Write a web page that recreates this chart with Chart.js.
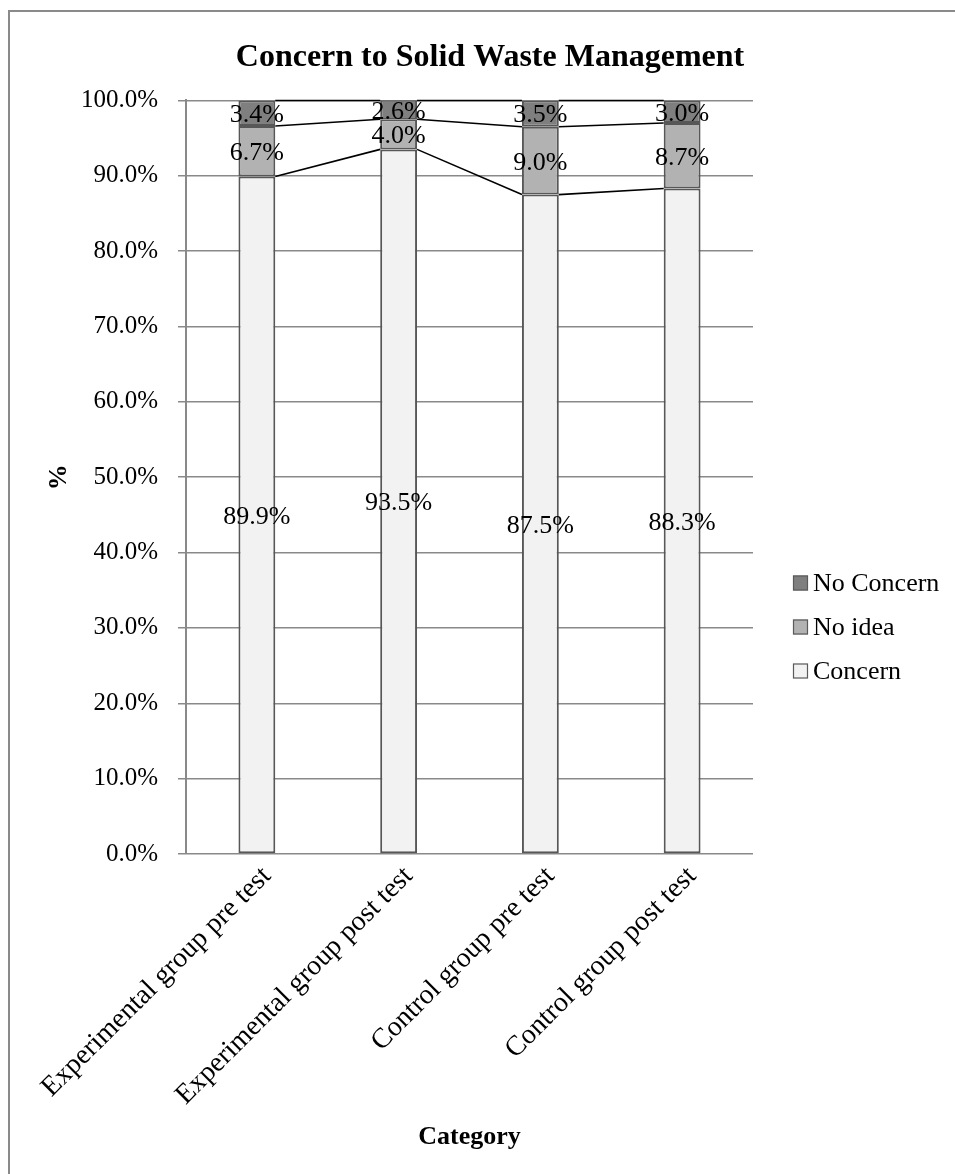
<!DOCTYPE html>
<html>
<head>
<meta charset="utf-8">
<title>Concern to Solid Waste Management</title>
<script src="https://cdn.jsdelivr.net/npm/chart.js@4/dist/chart.umd.min.js"></script>
<style>
  html, body { margin: 0; padding: 0; background: #fff; overflow: hidden; }
  #wrap { position: absolute; left: 0; top: 0; width: 980px; height: 1174px; }
  #frame { position: absolute; left: 8px; top: 10px; width: 1000px; height: 1200px;
           border-left: 2px solid #8a8a8a; border-top: 2px solid #8a8a8a; pointer-events: none; }
</style>
</head>
<body>
<div id="wrap"><canvas id="chart" width="980" height="1174"></canvas></div>
<div id="frame"></div>
<script>
// Survey groups (x categories)
const categories = [
  'Experimental group pre test',
  'Experimental group post test',
  'Control group pre test',
  'Control group post test'
];

// Share of respondents per answer, in percent
const concern    = [89.9, 93.5, 87.5, 88.3];
const noIdea     = [6.7, 4.0, 9.0, 8.7];
const noConcern  = [3.4, 2.6, 3.5, 3.0];

// Value axis ticks
const yTicks = [0, 10, 20, 30, 40, 50, 60, 70, 80, 90, 100];

const SERIF = "'Liberation Serif', 'Times New Roman', Times, serif";
const GRID = '#898989';

// Lines joining the top edge of each stacked segment from one bar to the next
const seriesLines = {
  id: 'seriesLines',
  afterDatasetsDraw(chart) {
    const {ctx, chartArea} = chart;
    ctx.save();
    ctx.beginPath();
    ctx.rect(chartArea.left, chartArea.top - 1, chartArea.right - chartArea.left, chartArea.bottom - chartArea.top + 1);
    ctx.clip();
    ctx.strokeStyle = '#000';
    ctx.lineWidth = 1.6;
    chart.data.datasets.forEach((ds, i) => {
      const bars = chart.getDatasetMeta(i).data;
      for (let j = 0; j < bars.length - 1; j++) {
        const a = bars[j].getProps(['x', 'y', 'width'], true);
        const b = bars[j + 1].getProps(['x', 'y', 'width'], true);
        const ya = Math.max(a.y, chartArea.top), yb = Math.max(b.y, chartArea.top);
        ctx.beginPath();
        ctx.moveTo(a.x + a.width / 2, ya);
        ctx.lineTo(b.x - b.width / 2, yb);
        ctx.stroke();
      }
    });
    ctx.restore();
  }
};

// Value labels centred in every segment
const segmentLabels = {
  id: 'segmentLabels',
  afterDatasetsDraw(chart) {
    const {ctx, chartArea} = chart;
    ctx.save();
    ctx.font = '26px ' + SERIF;
    ctx.fillStyle = '#000';
    ctx.textAlign = 'center';
    ctx.textBaseline = 'middle';
    chart.data.datasets.forEach((ds, i) => {
      chart.getDatasetMeta(i).data.forEach((bar, j) => {
        const p = bar.getProps(['x', 'y', 'base'], true);
        const top = Math.max(p.y, chartArea.top);
        ctx.fillText(ds.data[j].toFixed(1) + '%', p.x, (top + p.base) / 2 + 2);
      });
    });
    ctx.restore();
  }
};

// Legend to the right of the plot, last series listed first
const sideLegend = {
  id: 'sideLegend',
  afterDraw(chart) {
    const {ctx, chartArea} = chart;
    const opts = chart.options.plugins.sideLegend;
    const x = chartArea.right + opts.offsetX;
    ctx.save();
    ctx.font = opts.fontSize + 'px ' + SERIF;
    ctx.textBaseline = 'middle';
    ctx.textAlign = 'left';
    const items = chart.data.datasets.slice().reverse();
    items.forEach((ds, k) => {
      const cy = opts.top + k * opts.spacing;
      const s = opts.box;
      ctx.fillStyle = ds.backgroundColor;
      ctx.fillRect(x, cy - s / 2, s, s);
      ctx.strokeStyle = '#5a5a5a';
      ctx.lineWidth = 1.2;
      ctx.strokeRect(x + 0.5, cy - s / 2 + 0.5, s - 1, s - 1);
      ctx.fillStyle = '#000';
      ctx.fillText(ds.label, x + s + 5, cy + 1);
    });
    ctx.restore();
  }
};

const barStyle = { borderColor: '#575757', borderWidth: 2, borderSkipped: false,
                   barPercentage: 0.26, categoryPercentage: 1.0 };

new Chart(document.getElementById('chart'), {
  type: 'bar',
  data: {
    labels: categories,
    datasets: [
      Object.assign({ label: 'Concern',    data: concern,   backgroundColor: '#f2f2f2' }, barStyle),
      Object.assign({ label: 'No idea',    data: noIdea,    backgroundColor: '#b2b2b2' }, barStyle),
      Object.assign({ label: 'No Concern', data: noConcern, backgroundColor: '#7f7f7f' }, barStyle)
    ]
  },
  plugins: [seriesLines, segmentLabels, sideLegend],
  options: {
    responsive: false,
    animation: false,
    devicePixelRatio: 1,
    layout: { padding: 0 },
    plugins: {
      legend: { display: false },
      tooltip: { enabled: false },
      title: {
        display: true,
        text: 'Concern to Solid Waste Management',
        color: '#000',
        font: { family: SERIF, size: 32, weight: 'bold' },
        padding: { top: 39, bottom: 23 }
      },
      sideLegend: { offsetX: 40, top: 583, spacing: 44, box: 15, fontSize: 26 }
    },
    scales: {
      x: {
        stacked: true,
        grid: { display: false, drawTicks: false },
        border: { display: false },
        ticks: {
          color: '#000',
          font: { family: SERIF, size: 28 },
          minRotation: 45,
          maxRotation: 45,
          autoSkip: false,
          labelOffset: 10,
          padding: 6
        },
        title: {
          display: true,
          text: 'Category',
          color: '#000',
          font: { family: SERIF, size: 26, weight: 'bold' },
          padding: { top: 0, bottom: 21 }
        },
        afterFit(scale) { scale.height = 320; }
      },
      y: {
        stacked: true,
        min: 0,
        max: 100,
        afterBuildTicks(scale) { scale.ticks = yTicks.map(v => ({ value: v })); },
        grid: { color: GRID, lineWidth: 1.5, tickLength: 8 },
        border: { display: true, color: GRID, width: 2 },
        ticks: {
          color: '#000',
          font: { family: SERIF, size: 25 },
          padding: 20,
          callback: v => v.toFixed(1) + '%'
        },
        title: {
          display: true,
          text: '%',
          color: '#000',
          font: { family: SERIF, size: 26, weight: 'bold' },
          padding: { top: 44, bottom: 0 }
        },
        afterFit(scale) { scale.width = 186; }
      },
      legendSpace: {
        type: 'linear',
        position: 'right',
        display: true,
        grid: { display: false, drawTicks: false },
        border: { display: false },
        ticks: { display: false },
        afterFit(scale) { scale.width = 227; }
      }
    }
  }
});
</script>
</body>
</html>
